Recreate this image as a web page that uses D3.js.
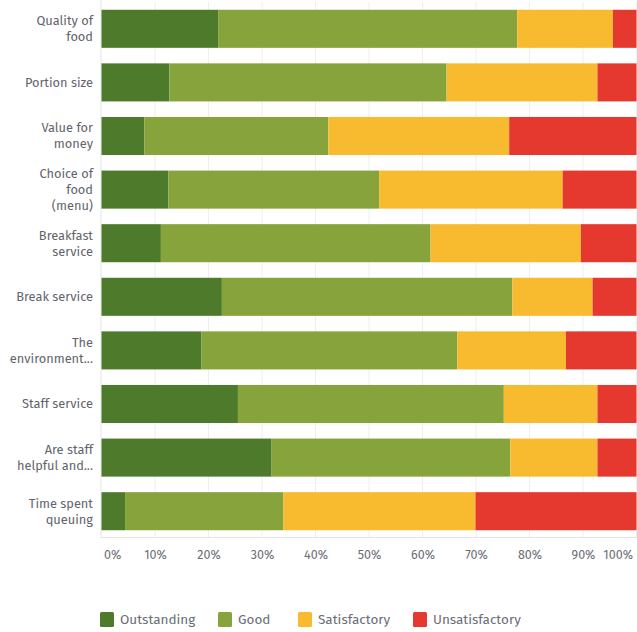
<!DOCTYPE html>
<html>
<head>
<meta charset="utf-8">
<script src="https://cdn.jsdelivr.net/npm/d3@7"></script>
<style>
  html, body { margin: 0; padding: 0; background: #fff; }
  svg { display: block; }
  text { font-family: "Fira Sans", "Open Sans", "Noto Sans", sans-serif; }
</style>
</head>
<body>
<svg id="chart" width="637" height="632"></svg>
<script>
// Survey questions (label lines for the y axis)
const categories = [
  ["Quality of", "food"],
  ["Portion size"],
  ["Value for", "money"],
  ["Choice of", "food", "(menu)"],
  ["Breakfast", "service"],
  ["Break service"],
  ["The", "environment..."],
  ["Staff service"],
  ["Are staff", "helpful and..."],
  ["Time spent", "queuing"]
];

// Share of answers, in percent, one array per rating
const outstanding    = [21.8, 12.7,  8.0, 12.5, 11.1, 22.5, 18.7, 25.5, 31.8,  4.4];
const good           = [55.9, 51.8, 34.4, 39.4, 50.4, 54.3, 47.8, 49.7, 44.6, 29.6];
const satisfactory   = [17.9, 28.2, 33.8, 34.3, 28.1, 15.0, 20.3, 17.5, 16.3, 35.9];
const unsatisfactory = [ 4.4,  7.3, 23.8, 13.8, 10.4,  8.2, 13.2,  7.3,  7.3, 30.1];

const seriesNames = ["Outstanding", "Good", "Satisfactory", "Unsatisfactory"];
const seriesColors = ["#4d7b2b", "#87a33b", "#f8bb2f", "#e5392f"];
const tickValues = [0, 10, 20, 30, 40, 50, 60, 70, 80, 90, 100];

const rows = categories.map((c, i) => ({
  key: i,
  Outstanding: outstanding[i],
  Good: good[i],
  Satisfactory: satisfactory[i],
  Unsatisfactory: unsatisfactory[i]
}));

const svg = d3.select("#chart");
const plotLeft = 101.5, plotRight = 636.5, plotTop = 2, plotBottom = 538;

const x = d3.scaleLinear().domain([0, 100]).range([plotLeft, plotRight]);
const y = d3.scaleBand().domain(d3.range(categories.length)).range([plotTop, plotBottom]).paddingInner(0.29).paddingOuter(0.145);
const color = d3.scaleOrdinal().domain(seriesNames).range(seriesColors);

// vertical grid lines
svg.append("g").selectAll("line").data(tickValues.slice(1)).join("line")
  .attr("x1", d => x(d)).attr("x2", d => x(d))
  .attr("y1", plotTop).attr("y2", plotBottom)
  .attr("stroke", "#eeeeee").attr("stroke-width", 1);

// left axis line and baseline
svg.append("line").attr("x1", plotLeft - 0.5).attr("x2", plotLeft - 0.5).attr("y1", 0).attr("y2", plotBottom)
  .attr("stroke", "#e4e4e4");
svg.append("line").attr("x1", plotLeft).attr("x2", plotRight).attr("y1", plotBottom - 0.5).attr("y2", plotBottom - 0.5)
  .attr("stroke", "#e4e4e4");

// stacked bars
const stacked = d3.stack().keys(seriesNames)(rows);
svg.append("g").selectAll("g").data(stacked).join("g")
  .attr("fill", s => color(s.key))
  .selectAll("rect").data(s => s).join("rect")
  .attr("x", d => x(d[0]))
  .attr("width", d => x(Math.min(d[1], 100)) - x(d[0]))
  .attr("y", d => y(d.data.key))
  .attr("height", y.bandwidth());

// category labels
const labelG = svg.append("g");
categories.forEach((lines, i) => {
  const cy = y(i) + y.bandwidth() / 2;
  const lh = 16;
  const t = labelG.append("text")
    .attr("text-anchor", "end")
    .attr("fill", "#62646c")
    .attr("font-size", 12.8);
  lines.forEach((ln, j) => {
    t.append("tspan")
      .attr("x", 93)
      .attr("y", cy + (j - (lines.length - 1) / 2) * lh)
      .attr("dy", "0.35em")
      .text(ln);
  });
});

// x axis tick labels
const xAxis = d3.axisBottom(x).tickValues(tickValues).tickFormat(d => d + "%").tickSize(0).tickPadding(0);
const ax = svg.append("g").attr("transform", `translate(0,${plotBottom + 12})`).call(xAxis);
ax.select(".domain").remove();
ax.selectAll("text")
  .attr("font-size", 12.5)
  .attr("fill", "#6b6d75")
  .attr("font-family", "\"Fira Sans\", \"Open Sans\", \"Noto Sans\", sans-serif")
  .attr("text-anchor", d => d === 0 ? "start" : (d === 100 ? "end" : "middle"))
  .attr("dx", d => d === 0 ? 2 : (d === 100 ? -4 : 0));

// legend
const legendX = [100, 218, 298, 413];
const lg = svg.append("g").selectAll("g").data(seriesNames).join("g")
  .attr("transform", (d, i) => `translate(${legendX[i]},612)`);
lg.append("rect").attr("width", 14).attr("height", 15).attr("rx", 1.5).attr("fill", d => color(d));
lg.append("text").attr("x", 20).attr("y", 7.5).attr("dy", "0.35em")
  .attr("font-size", 13.5).attr("fill", "#6b6d75").text(d => d);
</script>
</body>
</html>
